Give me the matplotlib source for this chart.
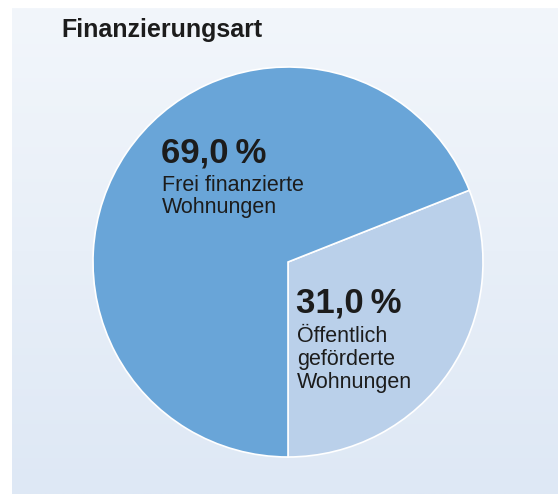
import matplotlib
matplotlib.use("Agg")
import matplotlib.pyplot as plt
import numpy as np

title = "Finanzierungsart"
values = [31.0, 69.0]
pct_labels = ["31,0\u2009%", "69,0\u2009%"]
cat_lines = [["Öffentlich", "geförderte", "Wohnungen"], ["Frei finanzierte", "Wohnungen"]]
colors = ["#bad0ea", "#69a5d8"]

W, H = 559, 495
fig = plt.figure(figsize=(W / 100, H / 100), dpi=100)
fig.patch.set_facecolor("white")
plt.rcParams["font.family"] = ["Liberation Sans", "DejaVu Sans"]

# background panel with vertical gradient
bg = fig.add_axes([12 / W, 1 - 494 / H, (558 - 12) / W, (494 - 8) / H])
top = np.array([0xf2, 0xf6, 0xfb]) / 255
bot = np.array([0xde, 0xe8, 0xf5]) / 255
t = np.linspace(0, 1, 256)[:, None, None]
grad = top * (1 - t) + bot * t
grad = np.repeat(grad, 2, axis=1)
bg.imshow(grad, aspect="auto", extent=[0, 1, 0, 1])
bg.axis("off")

# pie
cx, cy, r = 288, 262, 195
ax = fig.add_axes([(cx - r) / W, 1 - (cy + r) / H, 2 * r / W, 2 * r / H])
ax.pie(values, colors=colors, startangle=-90, counterclock=True,
       wedgeprops=dict(edgecolor="white", linewidth=1.2))
ax.set_xlim(-1, 1)
ax.set_ylim(-1, 1)
ax.set_aspect("equal")
ax.axis("off")

tc = "#1c1c1c"
def px(x, y):
    return x / W, 1 - y / H

fig.text(*px(61, 37), title, fontsize=18, fontweight="bold", color=tc, va="baseline", ha="left")

# 69 % block
fig.text(*px(161, 163), pct_labels[1], fontsize=25, fontweight="bold", color=tc, va="baseline")
for i, line in enumerate(cat_lines[1]):
    fig.text(*px(162, 191.5 + 21.5 * i), line, fontsize=15.5, color=tc, va="baseline")

# 31 % block
fig.text(*px(296, 313), pct_labels[0], fontsize=25, fontweight="bold", color=tc, va="baseline")
for i, line in enumerate(cat_lines[0]):
    fig.text(*px(297, 342 + 23 * i), line, fontsize=15.5, color=tc, va="baseline")

fig.savefig("out.png", dpi=100)
